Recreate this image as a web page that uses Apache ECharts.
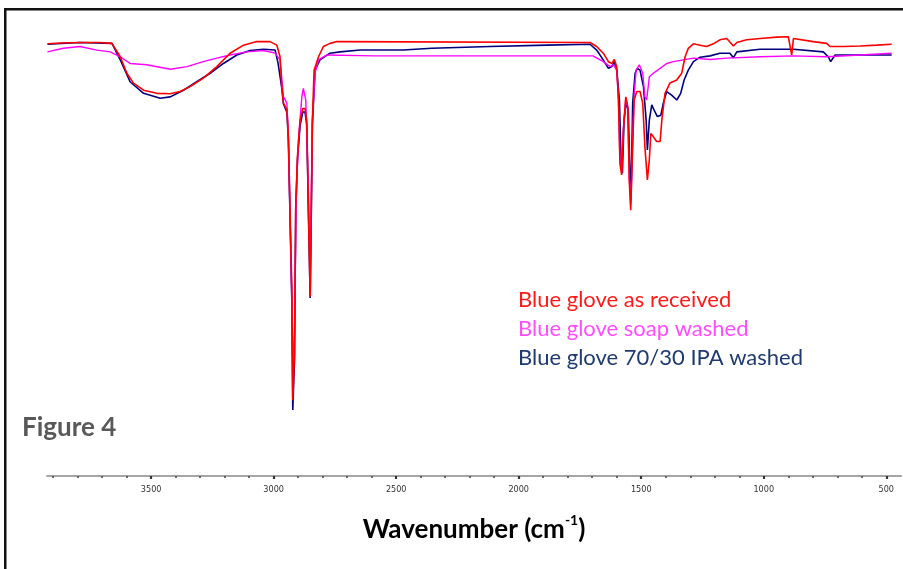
<!DOCTYPE html>
<html>
<head>
<meta charset="utf-8">
<script src="https://cdn.jsdelivr.net/npm/echarts@6/dist/echarts.min.js"></script>
<style>html,body{margin:0;padding:0;background:#fff;}#c{width:903px;height:569px;}</style>
</head>
<body>
<div id="c"></div>
<script>
// Wavenumber (cm-1) and relative transmittance
const receivedWn = [3923,3871,3790,3708,3660,3626,3599,3572,3531,3477,3422,3382,3341,3287,3232,3178,3123,3069,3015,2987,2974,2967,2960,2946,2940,2933,2926,2922,2915,2910,2903,2892,2881,2872,2865,2858,2851,2847,2842,2835,2817,2797,2770,2742,1709,1682,1655,1634,1620,1610,1600,1593,1587,1580,1573,1563,1555,1549,1543,1535,1529,1518,1505,1494,1485,1475,1467,1461,1451,1437,1423,1416,1403,1383,1355,1335,1321,1308,1287,1260,1233,1206,1179,1151,1124,1110,1070,1015,947,900,886,879,798,743,730,675,607,539,478];
const receivedT  = [96.9,97.1,97.2,97.2,97.0,94.0,90.3,88.1,86.5,85.8,85.7,86.2,87.3,89.2,91.8,94.8,96.6,97.4,97.4,96.6,94.0,87.3,83.6,82.1,76.1,59.0,42.4,17.0,27.6,60.4,71.6,79.8,82.4,82.4,79.8,59.0,40.2,57.4,79.8,91.0,94.0,96.3,97.0,97.4,97.2,96.3,94.8,92.9,92.5,93.4,91.8,84.3,70.1,67.5,77.6,85.0,82.8,66.4,59.6,73.8,84.3,86.2,86.2,83.6,73.8,66.4,70.9,76.8,76.1,75.0,75.0,79.8,85.8,88.1,88.8,90.3,94.0,95.9,96.9,96.6,96.3,96.9,97.8,98.1,96.4,97.2,97.8,98.1,98.4,98.5,94.4,98.1,97.4,97.0,96.3,96.3,96.4,96.6,96.8];

const soapWn = [3923,3858,3790,3722,3667,3626,3586,3518,3422,3354,3287,3232,3178,3110,3042,2994,2974,2960,2946,2940,2926,2922,2915,2908,2899,2885,2879,2869,2858,2851,2847,2842,2831,2817,2783,2590,1697,1655,1627,1614,1600,1593,1587,1580,1573,1563,1555,1549,1543,1535,1529,1521,1508,1494,1485,1478,1467,1451,1423,1396,1369,1328,1287,1219,1151,1015,879,743,607,478];
const soapT  = [95.1,95.9,96.3,95.5,95.1,94.0,92.5,92.2,91.2,91.8,92.9,93.7,94.4,95.1,95.4,94.8,93.3,85.0,83.6,76.1,39.5,23.8,32.7,61.9,75.3,85.0,86.9,84.3,63.5,43.9,59.6,79.8,90.4,93.3,94.4,94.2,94.2,92.9,91.8,92.2,91.0,84.3,70.9,68.2,77.6,84.8,82.5,66.8,60.8,75.3,85.4,91.0,92.2,90.3,85.0,84.3,89.5,90.3,91.4,92.5,92.9,93.3,93.7,93.4,93.7,94.0,94.2,94.0,94.4,94.8];

const ipaWn = [3923,3790,3660,3626,3586,3531,3463,3422,3368,3314,3259,3205,3150,3096,3042,2994,2982,2967,2960,2946,2940,2933,2926,2922,2915,2910,2903,2892,2881,2872,2865,2858,2851,2847,2842,2831,2811,2770,2729,2647,2472,2354,2117,1884,1709,1682,1655,1634,1620,1610,1600,1589,1582,1577,1570,1562,1553,1546,1542,1535,1525,1516,1505,1491,1480,1475,1467,1457,1448,1434,1420,1410,1396,1376,1355,1339,1325,1308,1287,1260,1219,1179,1138,1124,1110,1015,879,757,737,727,709,607,478];
const ipaT  = [96.8,97.2,97.0,93.3,88.4,85.8,84.7,85.0,86.5,88.4,90.3,92.5,94.4,95.4,95.7,95.5,92.5,87.0,83.4,81.6,75.3,57.4,39.5,14.8,26.0,59.6,70.9,78.7,81.6,81.6,78.7,58.5,39.9,56.3,78.7,91.0,93.3,94.8,95.1,95.5,95.5,95.9,96.3,96.6,96.8,95.5,93.3,91.4,91.8,92.9,91.0,84.3,70.2,67.9,79.8,83.6,82.1,67.9,61.9,83.6,90.3,91.4,91.0,87.3,79.8,73.1,79.8,83.2,82.1,80.6,80.9,83.6,86.2,85.4,84.3,85.8,88.8,91.0,92.9,93.9,94.2,94.8,94.8,93.8,95.1,95.7,95.7,95.1,94.0,92.9,94.4,94.4,94.4];

const seriesNames = ['Blue glove as received','Blue glove soap washed','Blue glove 70/30 IPA washed'];
const minorTicks = [3900,3800,3700,3600,3500,3400,3300,3200,3100,3000,2900,2800,2700,2600,2500,2400,2300,2200,2100,2000,1900,1800,1700,1600,1500,1400,1300,1200,1100,1000,900,800,700,600,500];
const majorTicks = [3500,3000,2500,2000,1500,1000,500];

const zip = (a, b) => a.map((v, i) => [v, b[i]]);

const chart = echarts.init(document.getElementById('c'), null, {renderer: 'canvas'});
const xCommon = {type: 'value', inverse: true, min: 440, max: 3925, splitLine: {show: false}};
chart.setOption({
  animation: false,
  backgroundColor: '#ffffff',
  title: {
    text: 'Figure 4', left: 17, top: 410,
    textStyle: {fontFamily: 'Lato', fontWeight: 'bold', fontSize: 26, color: '#595959'}
  },
  legend: {
    orient: 'vertical', left: 508, top: 280, icon: 'none', itemWidth: 0, itemHeight: 10, itemGap: 0,
    selectedMode: false,
    textStyle: {fontFamily: 'Lato', fontSize: 22, lineHeight: 29},
    data: [
      {name: seriesNames[0], textStyle: {color: '#ff1a1a'}},
      {name: seriesNames[1], textStyle: {color: '#ff4dff'}},
      {name: seriesNames[2], textStyle: {color: '#1f3a6e'}}
    ]
  },
  grid: {left: 47, right: 2, top: 30, bottom: 93},
  xAxis: [
    Object.assign({}, xCommon, {
      name: '{a|Wavenumber (cm}{s|-1}{a|)}', nameLocation: 'middle', nameGap: 37,
      nameTextStyle: {rich: {
        a: {fontFamily: 'Lato', fontWeight: 'bold', fontSize: 26, color: '#000', lineHeight: 30, verticalAlign: 'bottom'},
        s: {fontFamily: 'Lato', fontWeight: 'bold', fontSize: 14, color: '#000', lineHeight: 30, verticalAlign: 'top'}
      }},
      axisLine: {show: true, lineStyle: {color: '#a6a6a6', width: 2}},
      axisTick: {show: true, customValues: minorTicks, length: 2, lineStyle: {color: '#444', width: 1.5}},
      axisLabel: {show: true, customValues: majorTicks, margin: 9, fontFamily: 'DejaVu Sans Condensed', fontSize: 9, color: '#333', formatter: v => String(v)}
    }),
    Object.assign({}, xCommon, {
      position: 'bottom',
      axisLine: {show: false},
      axisTick: {show: true, customValues: majorTicks, length: 3, lineStyle: {color: '#333', width: 2.2}},
      axisLabel: {show: false}
    })
  ],
  yAxis: {type: 'value', min: 0, max: 100, show: false},
  series: [
    {name: seriesNames[2], type: 'line', data: zip(ipaWn, ipaT), showSymbol: false, lineStyle: {color: '#00007f', width: 1.6}, itemStyle: {color: '#1f3a6e'}, z: 2},
    {name: seriesNames[1], type: 'line', data: zip(soapWn, soapT), showSymbol: false, lineStyle: {color: '#ff00ff', width: 1.4}, itemStyle: {color: '#ff4dff'}, z: 3},
    {name: seriesNames[0], type: 'line', data: zip(receivedWn, receivedT), showSymbol: false, lineStyle: {color: '#ff0000', width: 1.6}, itemStyle: {color: '#ff1a1a'}, z: 4}
  ],
  graphic: [
    {type: 'rect', left: 4, top: 8, shape: {width: 899, height: 2.5}, style: {fill: '#111'}, silent: true},
    {type: 'rect', left: 4, top: 8, shape: {width: 2.5, height: 561}, style: {fill: '#111'}, silent: true}
  ]
});
</script>
</body>
</html>
